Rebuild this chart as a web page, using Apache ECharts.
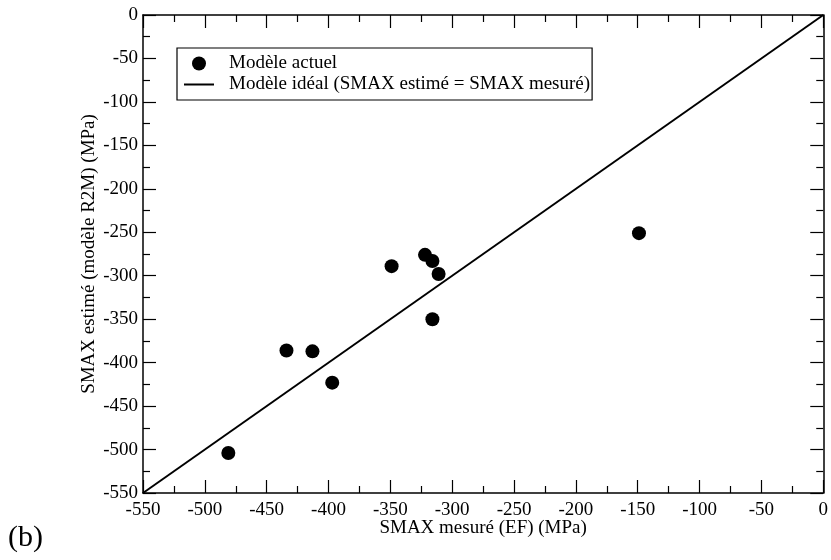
<!DOCTYPE html>
<html>
<head>
<meta charset="utf-8">
<script src="https://cdn.jsdelivr.net/npm/echarts@6/dist/echarts.min.js"></script>
<style>
  html, body { margin: 0; padding: 0; background: #fff; }
  #chart { width: 831px; height: 560px; }
</style>
</head>
<body>
<div id="chart"></div>
<script>
// SMAX mesuré (EF) vs SMAX estimé (R2M), MPa
var mesure = [-481, -434, -413, -397, -349, -322, -316, -311, -316, -149]
var estime = [-504, -386, -387, -423, -289, -276, -283, -298, -350, -251]
var ideal = [[-550, -550], [0, 0]]

var font = 'Liberation Serif'
var points = mesure.map(function (x, i) { return [x, estime[i]] })

var chart = echarts.init(document.getElementById('chart'))

function axisBase() {
  return {
    type: 'value',
    min: -550,
    max: 0,
    interval: 50,
    axisLine: { show: true, onZero: false, lineStyle: { color: '#000', width: 1.5 } },
    axisTick: { show: true, inside: true, length: 13, lineStyle: { color: '#000', width: 1.2 } },
    minorTick: { show: true, splitNumber: 2, length: 7, lineStyle: { color: '#000', width: 1.2 } },
    splitLine: { show: false },
    axisLabel: { color: '#000', fontFamily: font, fontSize: 19 }
  }
}

var xBottom = axisBase()
xBottom.position = 'bottom'
xBottom.name = 'SMAX mesuré (EF) (MPa)'
xBottom.nameLocation = 'middle'
xBottom.nameGap = 26
xBottom.nameMoveOverlap = false
xBottom.nameTextStyle = { color: '#000', fontFamily: font, fontSize: 19 }
xBottom.axisLabel.margin = 8

var xTop = axisBase()
xTop.position = 'top'
xTop.axisLabel = { show: false }

var yLeft = axisBase()
yLeft.position = 'left'
yLeft.name = 'SMAX estimé (modèle R2M) (MPa)'
yLeft.nameLocation = 'middle'
yLeft.nameGap = 44
yLeft.nameMoveOverlap = false
yLeft.nameTextStyle = { color: '#000', fontFamily: font, fontSize: 19 }
yLeft.axisLabel.margin = 5

var yRight = axisBase()
yRight.position = 'right'
yRight.axisLabel = { show: false }

chart.setOption({
  animation: false,
  grid: { left: 143, right: 3, top: 15, bottom: 67 },
  xAxis: [xBottom, xTop],
  yAxis: [yLeft, yRight],
  legend: {
    orient: 'vertical',
    left: 177,
    top: 48,
    itemWidth: 30,
    itemHeight: 14,
    itemGap: 2,
    padding: [6, 2, 6, 6],
    borderColor: '#000',
    borderWidth: 1.2,
    borderRadius: 0,
    textStyle: { color: '#000', fontFamily: font, fontSize: 19, padding: [0, 0, 0, 10] },
    data: [
      { name: 'Modèle actuel', icon: 'circle', itemStyle: { color: '#000' } },
      {
        name: 'Modèle idéal (SMAX estimé = SMAX mesuré)',
        itemStyle: { color: 'rgba(0,0,0,0)', borderWidth: 0 },
        lineStyle: { color: '#000', width: 2 }
      }
    ]
  },
  series: [{
    name: 'Modèle actuel',
    type: 'scatter',
    data: points,
    symbol: 'circle',
    symbolSize: 14,
    itemStyle: { color: '#000', opacity: 1 }
  }, {
    name: 'Modèle idéal (SMAX estimé = SMAX mesuré)',
    type: 'line',
    data: ideal,
    symbol: 'none',
    itemStyle: { color: '#000' },
    lineStyle: { color: '#000', width: 2 }
  }],
  graphic: [{
    type: 'text',
    left: 8,
    top: 523,
    style: { text: '(b)', font: '30px "Liberation Serif"', fill: '#000' }
  }]
})
</script>
</body>
</html>
